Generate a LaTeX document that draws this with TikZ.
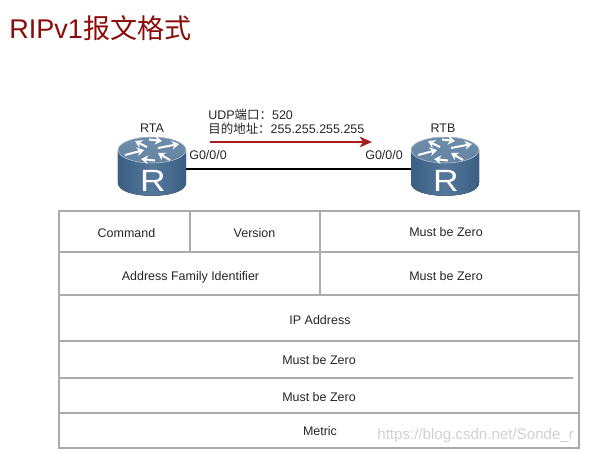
\documentclass[tikz,border=0pt]{standalone}
\usepackage{fontspec}
\setmainfont{Liberation Sans}
\newfontfamily\cjk{Noto Sans CJK SC}
\usepackage{xcolor}
\usetikzlibrary{arrows.meta, positioning, calc}
\definecolor{titlered}{HTML}{8B0A0A}
\definecolor{arrowred}{HTML}{A81C1C}
\definecolor{tablegray}{HTML}{ABABAB}
\definecolor{routertop}{HTML}{6E8DAB}
\definecolor{routerdark}{HTML}{3A5F83}
\definecolor{routermid}{HTML}{54789A}
\tikzset{
  tableline/.style={draw=tablegray, line width=0.6pt},
  celltext/.style={font=\fontsize{7.1}{8.5}\selectfont, text=black!85, text height=5.2pt, text depth=0pt},
  routerarrow/.style={white, line width=1.15pt, -{Stealth[length=4pt,width=5pt]}},
  pics/router/.style={code={
    \coordinate (-w) at (-34,19);
    \coordinate (-e) at (34,19);
    \fill[left color=routerdark, right color=routerdark, middle color=routermid]
      (-34,0) -- (-34,33) .. controls (-34,50) and (34,50) .. (34,33) -- (34,0) -- cycle;
    \fill[top color=routertop, bottom color=routertop!80!routerdark, draw=white!70!routerdark, line width=0.3pt]
      (0,0) ellipse [x radius=34, y radius=13];
    \draw[routerarrow] (-5,-3) -- (-17,-9);
    \draw[routerarrow] (-27,5) -- (-8,0);
    \draw[routerarrow] (6,-2) -- (27,-6);
    \draw[routerarrow] (18,10) -- (6,3);
    \draw[routerarrow] (-3,-10.5) -- (10,-9);
    \draw[routerarrow] (3,10.5) -- (-11,9);
    \node (-letter) [text=white, inner sep=0pt, font=\fontsize{17.5}{18}\selectfont] at (1,31) {\scalebox{1.15}[1]{R}};
  }}
}
\begin{document}
\begin{tikzpicture}[x=0.02cm, y=-0.02cm]
  \useasboundingbox (0,0) rectangle (593,454);
  \fill[white] (0,0) rectangle (593,454);
  % heading
  \node (heading) [anchor=west, inner sep=0pt, text=titlered, font=\fontsize{15.4}{17}\selectfont] at (9,28) {RIPv1{\cjk 报文格式}};
  % routers and link
  \pic (rta) at (152,150) {router};
  \pic (rtb) at (445,150) {router};
  \draw[black, line width=1.6pt] (rta-e) -- (rtb-w);
  \node (rtaname) [celltext] at (152,128) {RTA};
  \node (rtbname) [celltext] at (443,128) {RTB};
  \node (rtaport) [celltext, anchor=west, inner sep=0pt] at (189,155) {G0/0/0};
  \node (rtbport) [celltext, anchor=west, inner sep=0pt] at (365,155) {G0/0/0};
  % packet
  \node (udpline) [celltext, anchor=west, inner sep=0pt] at (208,115) {UDP{\cjk 端口：}520};
  \node (dstline) [celltext, anchor=west, inner sep=0pt] at (208,129) {{\cjk 目的地址：}255.255.255.255};
  \coordinate (arrowstart) at (210,142);
  \coordinate (arrowend) at (372,142);
  \draw[arrowred, line width=1.4pt, -{Stealth[length=7pt,width=6pt,inset=2pt]}] (arrowstart) -- (arrowend);
  % table
  \draw[tableline] (59,211) rectangle (579,448);
  \draw[tableline] (59,252) -- (579,252);
  \draw[tableline] (59,295) -- (579,295);
  \draw[tableline] (59,341) -- (579,341);
  \draw[tableline] (59,378) -- (573,378);
  \draw[tableline] (59,413) -- (579,413);
  \draw[tableline] (190,211) -- (190,252);
  \draw[tableline] (320,211) -- (320,295);
  \node (command) [celltext] at (126.5,232.5) {Command};
  \node (version) [celltext] at (254.5,232.5) {Version};
  \node (zeroa) [celltext] at (446,232) {Must be Zero};
  \node (family) [celltext] at (190.5,276) {Address Family Identifier};
  \node (zerob) [celltext] at (446,276) {Must be Zero};
  \node (ipaddr) [celltext] at (320,320) {IP Address};
  \node (zeroc) [celltext] at (319,360) {Must be Zero};
  \node (zerod) [celltext] at (319,397) {Must be Zero};
  \node (metric) [celltext] at (320,430.5) {Metric};
  % watermark
  \node (mark) [anchor=west, inner sep=0pt, text=black!18, font=\fontsize{8.6}{10}\selectfont] at (377,436) {https://blog.csdn.net/Sonde\_r};
\end{tikzpicture}
\end{document}
